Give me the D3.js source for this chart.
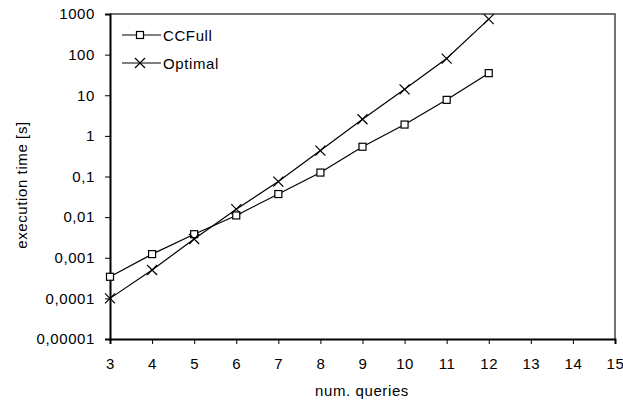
<!DOCTYPE html>
<html>
<head>
<meta charset="utf-8">
<script src="https://cdn.jsdelivr.net/npm/d3@7"></script>
<style>
  body { margin: 0; background: #fff; }
  text { font-family: "Liberation Sans", Arial, sans-serif; fill: #000; }
</style>
</head>
<body>
<svg id="chart" width="623" height="404"></svg>
<script>
// data
var queries = [3, 4, 5, 6, 7, 8, 9, 10, 11, 12];
var ccfull  = [0.00034, 0.00123, 0.0038, 0.011, 0.037, 0.125, 0.54, 1.9, 7.7, 35];
var optimal = [0.0001, 0.0005, 0.0029, 0.0157, 0.075, 0.435, 2.57, 14, 80, 750];
var xTicks = [3, 4, 5, 6, 7, 8, 9, 10, 11, 12, 13, 14, 15];
var yTicks = [0.00001, 0.0001, 0.001, 0.01, 0.1, 1, 10, 100, 1000];
var yTickLabels = ["0,00001", "0,0001", "0,001", "0,01", "0,1", "1", "10", "100", "1000"];

var plotL = 110, plotR = 615, plotT = 14, plotB = 339;
var fs = "15px", ls = "0.6px";
var svg = d3.select("#chart");

var x = d3.scaleLinear().domain([3, 15]).range([plotL, plotR]);
var y = d3.scaleLog().domain([0.00001, 1000]).range([plotB, plotT]);

// frame (top + right)
svg.append("path")
   .attr("d", "M" + plotL + "," + plotT + "H" + plotR + "V" + plotB)
   .attr("fill", "none").attr("stroke", "#444").attr("stroke-width", 1.5);

// y axis
var yAxis = d3.axisLeft(y).tickValues(yTicks)
    .tickFormat(function(d, i) { return yTickLabels[i]; })
    .tickSize(5).tickPadding(10);
var gy = svg.append("g").attr("transform", "translate(" + plotL + ",0)").call(yAxis);
gy.select(".domain").attr("stroke-width", 2);
gy.selectAll("text").style("font-size", fs).style("letter-spacing", ls);

// x axis
var xAxis = d3.axisBottom(x).tickValues(xTicks).tickSize(5).tickPadding(14);
var gx = svg.append("g").attr("transform", "translate(0," + plotB + ")").call(xAxis);
gx.select(".domain").attr("stroke-width", 2);
gx.selectAll("text").style("font-size", fs).style("letter-spacing", ls);

// axis titles
svg.append("text").attr("x", 362).attr("y", 396)
   .attr("text-anchor", "middle").style("font-size", fs).style("letter-spacing", ls)
   .text("num. queries");
svg.append("text").attr("transform", "translate(27,185) rotate(-90)")
   .attr("text-anchor", "middle").style("font-size", fs).style("letter-spacing", ls)
   .text("execution time [s]");

var line = d3.line().x(function(d) { return x(d[0]); }).y(function(d) { return y(d[1]); });

function drawSeries(vals, marker) {
    var pts = queries.map(function(q, i) { return [q, vals[i]]; });
    svg.append("path").datum(pts).attr("d", line)
       .attr("fill", "none").attr("stroke", "#000").attr("stroke-width", 1.2);
    pts.forEach(function(p) { marker(x(p[0]), y(p[1])); });
}

function square(cx, cy) {
    svg.append("rect").attr("x", cx - 3.5).attr("y", cy - 3.5)
       .attr("width", 7).attr("height", 7)
       .attr("fill", "#fff").attr("stroke", "#000").attr("stroke-width", 1.2);
}
function cross(cx, cy) {
    var s = 5;
    svg.append("path")
       .attr("d", "M" + (cx - s) + "," + (cy - s) + "L" + (cx + s) + "," + (cy + s) +
                  "M" + (cx - s) + "," + (cy + s) + "L" + (cx + s) + "," + (cy - s))
       .attr("stroke", "#000").attr("stroke-width", 1.2);
}

drawSeries(ccfull, square);
drawSeries(optimal, cross);

// legend
var legend = [["CCFull", square, 35], ["Optimal", cross, 63]];
legend.forEach(function(l) {
    svg.append("line").attr("x1", 122).attr("x2", 161).attr("y1", l[2]).attr("y2", l[2])
       .attr("stroke", "#000").attr("stroke-width", 1.2);
    l[1](140, l[2]);
    svg.append("text").attr("x", 163).attr("y", l[2] + 5.5)
       .style("font-size", fs).style("letter-spacing", ls).text(l[0]);
});
</script>
</body>
</html>
